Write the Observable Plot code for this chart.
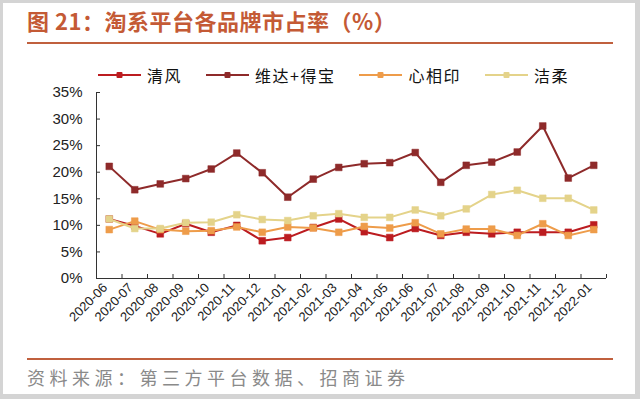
<!DOCTYPE html>
<html><head><meta charset="utf-8">
<script src="https://cdn.jsdelivr.net/npm/d3@7"></script>
<script src="https://cdn.jsdelivr.net/npm/@observablehq/plot@0.6"></script>
<style>
body{margin:0;width:640px;height:399px;background:#d4d4d4;position:relative;overflow:hidden;font-family:"Noto Sans CJK SC","Noto Sans",sans-serif;}
#frame{position:absolute;left:3px;top:3px;width:632px;height:391px;background:#fff;}
#title{position:absolute;left:27px;top:6px;font-size:22px;font-weight:bold;color:#C45A35;letter-spacing:0.5px;white-space:nowrap;line-height:28px;}
.hr{position:absolute;left:27px;width:586px;height:2px;background:#C0603E;}
#legend{position:absolute;left:98px;top:63px;display:flex;align-items:center;gap:24px;font-size:16px;letter-spacing:1.5px;color:#111;line-height:24px;}
.item{display:flex;align-items:center;gap:6px;}
#chart{position:absolute;left:0;top:85px;}
#caption{position:absolute;left:27px;top:365px;font-size:18px;color:#8a8a8a;letter-spacing:4.5px;white-space:nowrap;line-height:24px;}
</style></head>
<body>
<div id="frame"></div>
<div id="title">图 21：淘系平台各品牌市占率（%）</div>
<div class="hr" style="top:42px"></div>
<div id="legend"></div>
<div id="chart"></div>
<div class="hr" style="top:358px"></div>
<div id="caption">资料来源：第三方平台数据、招商证券</div>
<script>
const months = ["2020-06","2020-07","2020-08","2020-09","2020-10","2020-11","2020-12","2021-01","2021-02","2021-03","2021-04","2021-05","2021-06","2021-07","2021-08","2021-09","2021-10","2021-11","2021-12","2022-01"];
const yTicks = [0,5,10,15,20,25,30,35];
const seriesNames = ["清风","维达+得宝","心相印","洁柔"];
const seriesColors = ["#BC1C20","#8E2A2A","#EE9C4A","#E4D38A"];
const qingfeng = [11.2,9.9,8.4,10.3,8.7,10.0,7.1,7.7,9.6,11.2,8.8,7.7,9.4,8.1,8.7,8.4,8.7,8.7,8.7,10.1];
const weida = [21.1,16.7,17.8,18.8,20.6,23.6,19.9,15.3,18.7,20.9,21.6,21.8,23.7,18.1,21.3,21.9,23.8,28.7,18.9,21.3];
const xinxiangyin = [9.2,10.8,9.2,8.9,9.0,9.7,8.7,9.7,9.5,8.7,9.8,9.5,10.5,8.4,9.3,9.3,8.1,10.3,8.1,9.2];
const jierou = [11.2,9.4,9.4,10.5,10.6,12.0,11.1,10.9,11.8,12.2,11.5,11.5,12.9,11.8,13.1,15.8,16.6,15.1,15.1,12.9];
const seriesValues = [qingfeng, weida, xinxiangyin, jierou];

// legend
const legend = document.getElementById("legend");
seriesNames.forEach((name, k) => {
  const it = document.createElement("div");
  it.className = "item";
  it.innerHTML = `<svg width="43" height="10"><line x1="0" x2="43" y1="5" y2="5" stroke="${seriesColors[k]}" stroke-width="2"/><rect x="18.5" y="2" width="6" height="6" rx="1" fill="${seriesColors[k]}"/></svg><span>${name}</span>`;
  legend.appendChild(it);
});

const seriesMarks = seriesValues.flatMap((vals, k) => {
  const data = vals.map((v, i) => ({i, v}));
  return [
    Plot.line(data, {x: "i", y: "v", stroke: seriesColors[k], strokeWidth: 2}),
    Plot.dot(data, {x: "i", y: "v", symbol: "square", r: 3.8, fill: seriesColors[k], stroke: seriesColors[k], strokeWidth: 0.5})
  ];
});

const chart = Plot.plot({
  width: 640, height: 270,
  marginLeft: 96, marginRight: 34, marginTop: 7, marginBottom: 77,
  x: {type: "linear", domain: [-0.5, 19.5]},
  y: {domain: [0, 35]},
  style: {fontFamily: "'Liberation Sans', Arial, sans-serif", color: "#222", background: "transparent", overflow: "visible"},
  marks: [
    Plot.ruleY([0], {stroke: "#333"}),
    Plot.ruleX([-0.5], {y1: 0, y2: 35, stroke: "#333"}),
    Plot.axisY({ticks: yTicks, tickFormat: d => d + "%", tickSize: 0, tickPadding: 14, fontSize: 15, label: null}),
    Plot.axisY({ticks: yTicks, tickSize: -4, tickFormat: () => "", label: null, stroke: "#333"}),
    Plot.axisX({ticks: d3.range(-0.5, 20, 1), tickSize: -4, tickFormat: () => "", label: null, stroke: "#333"}),
    Plot.axisX({ticks: d3.range(20), tickSize: 0, tickPadding: 7, dx: -4, tickFormat: i => months[i], tickRotate: -45, fontSize: 13, label: null}),
    ...seriesMarks
  ]
});
document.getElementById("chart").appendChild(chart);
</script>
</body></html>
